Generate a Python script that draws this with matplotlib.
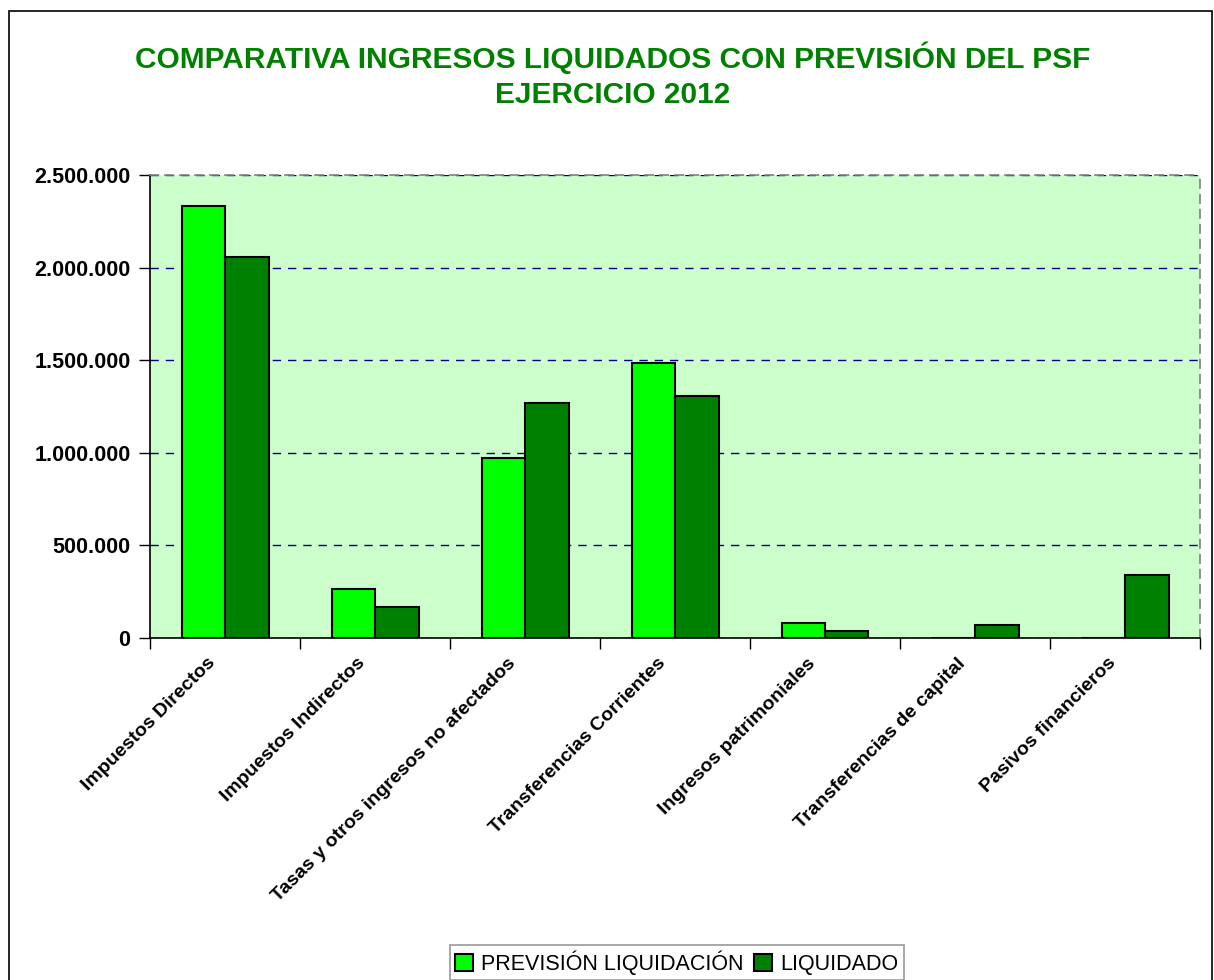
import matplotlib.pyplot as plt
import matplotlib.patches as mpatches
import matplotlib.ticker as mticker
import matplotlib.transforms as mtransforms
import numpy as np

categorias = ['Impuestos Directos', 'Impuestos Indirectos', 'Tasas y otros ingresos no afectados',
              'Transferencias Corrientes', 'Ingresos patrimoniales', 'Transferencias de capital',
              'Pasivos financieros']
prevision = [2331000, 266000, 972000, 1485000, 81000, 0, 0]
liquidado = [2055000, 167000, 1268000, 1306000, 40000, 68000, 338000]

plt.rcParams['font.family'] = ['Liberation Sans', 'DejaVu Sans']

fig = plt.figure(figsize=(12.14, 9.8), dpi=100)
ax = fig.add_axes([150 / 1214, 1 - 638 / 980, 1050 / 1214, 463 / 980])
ax.set_facecolor('#CCFFCC')

x = np.arange(len(categorias))
w = 0.29
ax.bar(x - w / 2, prevision, w, color='#00FF00', edgecolor='black', linewidth=1.5,
       label='PREVISIÓN LIQUIDACIÓN', zorder=3)
ax.bar(x + w / 2, liquidado, w, color='#008000', edgecolor='black', linewidth=1.5,
       label='LIQUIDADO', zorder=3)

ax.set_xlim(-0.5, len(categorias) - 0.5)
ax.set_ylim(0, 2500000)
ax.yaxis.set_major_locator(mticker.MultipleLocator(500000))
ax.yaxis.set_major_formatter(mticker.FuncFormatter(lambda v, p: f'{int(v):,}'.replace(',', '.')))
ax.grid(axis='y', color='#000080', linestyle=(0, (6, 5)), linewidth=1, zorder=1)

ax.set_xticks(x)
ax.set_xticklabels(categorias, rotation=45, ha='right', rotation_mode='anchor',
                   fontsize=14, fontweight='bold')
ax.tick_params(axis='x', which='major', length=0, pad=12)
desplaza = mtransforms.ScaledTranslation(-18 / 100, 0, fig.dpi_scale_trans)
for lab in ax.get_xticklabels():
    lab.set_transform(lab.get_transform() + desplaza)
ax.set_xticks(np.arange(len(categorias) + 1) - 0.5, minor=True)
ax.tick_params(axis='x', which='minor', length=8, width=1, color='black')
ax.tick_params(axis='y', length=8, width=1, labelsize=15.5, pad=6)
for lab in ax.get_yticklabels():
    lab.set_fontweight('bold')

for s in ['left', 'bottom']:
    ax.spines[s].set_color('black')
    ax.spines[s].set_linewidth(1.2)
for s in ['top', 'right']:
    ax.spines[s].set_color('#808080')
    ax.spines[s].set_linestyle((0, (5, 4)))
    ax.spines[s].set_linewidth(1.2)

fig.text(0.505, 1 - 58 / 980, 'COMPARATIVA INGRESOS LIQUIDADOS CON PREVISIÓN DEL PSF',
         ha='center', va='center', fontsize=21.5, fontweight='bold', color='#008000')
fig.text(0.505, 1 - 95 / 980, 'EJERCICIO 2012',
         ha='center', va='center', fontsize=21.5, fontweight='bold', color='#008000')

# marco exterior del grafico
fig.patches.append(mpatches.Rectangle((9 / 1214, -0.05), 1203 / 1214, 1.05 - 11 / 980,
                                      transform=fig.transFigure, fill=False,
                                      edgecolor='black', linewidth=1.2))

leg = fig.legend(loc='upper left', bbox_to_anchor=(450 / 1214, 1 - 945 / 980), ncol=2,
                 frameon=True, fancybox=False, edgecolor='#808080', fontsize=15.5,
                 handlelength=0.8, handleheight=0.8, handletextpad=0.4, columnspacing=0.5,
                 borderpad=0.25, borderaxespad=0)
leg.get_frame().set_linewidth(1.2)

fig.savefig('out.png', dpi=100)
